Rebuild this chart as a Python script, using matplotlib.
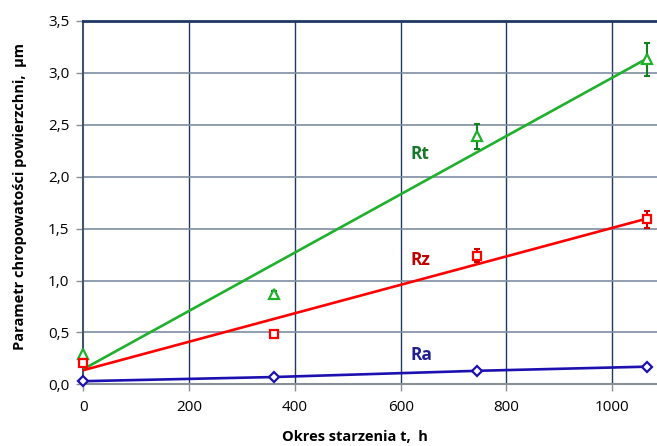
import numpy as np
import matplotlib
matplotlib.use("Agg")
import matplotlib.pyplot as plt

plt.rcParams['font.family'] = ['Open Sans', 'DejaVu Sans']

# Data
t_hours = [0, 360, 745, 1066]
Ra = [0.03, 0.07, 0.13, 0.17]
Rz = [0.21, 0.48, 1.24, 1.59]
Rz_err = [0.0, 0.02, 0.065, 0.08]
Rt = [0.29, 0.87, 2.39, 3.13]
Rt_err = [0.0, 0.03, 0.12, 0.16]

x_ticks = [0, 200, 400, 600, 800, 1000]
y_ticks = [0.0, 0.5, 1.0, 1.5, 2.0, 2.5, 3.0, 3.5]
y_ticklabels = ["0,0", "0,5", "1,0", "1,5", "2,0", "2,5", "3,0", "3,5"]

W, H = 657, 446
fig = plt.figure(figsize=(W / 100, H / 100), dpi=100)
left, right_px, top, bottom = 83.3, 657, 21, 384.3
ax = fig.add_axes([left / W, (H - bottom) / H, (right_px - left) / W, (bottom - top) / H])

ax.set_xlim(0, 1084.5)
ax.set_ylim(0, 3.5)

# grid
for xv in x_ticks[1:]:
    ax.axvline(xv, color='#1f3864', lw=1.0, zorder=1)
for yv in y_ticks[1:-1]:
    ax.axhline(yv, color='#7d8ea3', lw=1.2, zorder=1)

# Trend lines (linear fits)
xs = np.array(t_hours, dtype=float)
xline = np.array([xs.min(), xs.max()])
pt = np.polyfit(xs, Rt, 1)
pz = np.polyfit(xs, Rz, 1)
ax.plot(xline, np.polyval(pt, xline), color='#1fb02c', lw=1.9, zorder=3)
ax.plot(xline, np.polyval(pz, xline), color='#ff0000', lw=1.9, zorder=3)
ax.plot(t_hours, Ra, color='#1c10b0', lw=1.9, zorder=3)

# error bars
for yv, ev, col in [(Rt, Rt_err, '#12801f'), (Rz, Rz_err, '#d00000')]:
    eb = ax.errorbar(t_hours, yv, yerr=ev, fmt='none', ecolor=col, elinewidth=1.5,
                     capsize=2.0, capthick=1.5, zorder=4)
    for art in eb.lines[1] + eb.lines[2]:
        art.set_clip_on(False)

# markers
ax.plot(t_hours, Rt, linestyle='none', marker='^', ms=7, mfc='white', mec='#1fb02c', mew=1.6,
        zorder=5, clip_on=False)
ax.plot(t_hours, Rz, linestyle='none', marker='s', ms=5.5, mfc='white', mec='#ff0000', mew=1.6,
        zorder=5, clip_on=False)
ax.plot(t_hours, Ra, linestyle='none', marker='D', ms=5, mfc='white', mec='#1c10b0', mew=1.6,
        zorder=5, clip_on=False)

# series labels
ax.text(618, 2.22, "Rt", color='#17782a', fontsize=12.5, fontweight='bold', va='center', ha='left')
ax.text(618, 1.20, "Rz", color='#c00000', fontsize=12.5, fontweight='bold', va='center', ha='left')
ax.text(618, 0.28, "Ra", color='#20208f', fontsize=12.5, fontweight='bold', va='center', ha='left')

# spines
ax.spines['right'].set_visible(False)
ax.spines['top'].set_color('#1f3864')
ax.spines['top'].set_linewidth(2.0)
ax.spines['left'].set_color('#44546a')
ax.spines['left'].set_linewidth(1.5)
ax.spines['bottom'].set_color('#8a8f96')
ax.spines['bottom'].set_linewidth(1.5)

ax.set_xticks(x_ticks)
ax.set_xticklabels([str(v) for v in x_ticks], fontsize=11)
ax.set_yticks(y_ticks)
ax.set_yticklabels(y_ticklabels, fontsize=11)
ax.tick_params(axis='x', length=5, width=1, color='#8a8f96', pad=6)
ax.tick_params(axis='y', length=5, width=1, color='#8a8f96', pad=5)

fig.text(355 / W, 1 - 437 / H, "Okres starzenia t,  h", fontsize=10.5, fontweight='bold',
         ha='center', va='center')
fig.text(20 / W, 1 - 196 / H, "Parametr chropowatości powierzchni,  µm", fontsize=10.5,
         fontweight='bold', rotation=90, ha='center', va='center')

fig.savefig("out.png", dpi=100)
